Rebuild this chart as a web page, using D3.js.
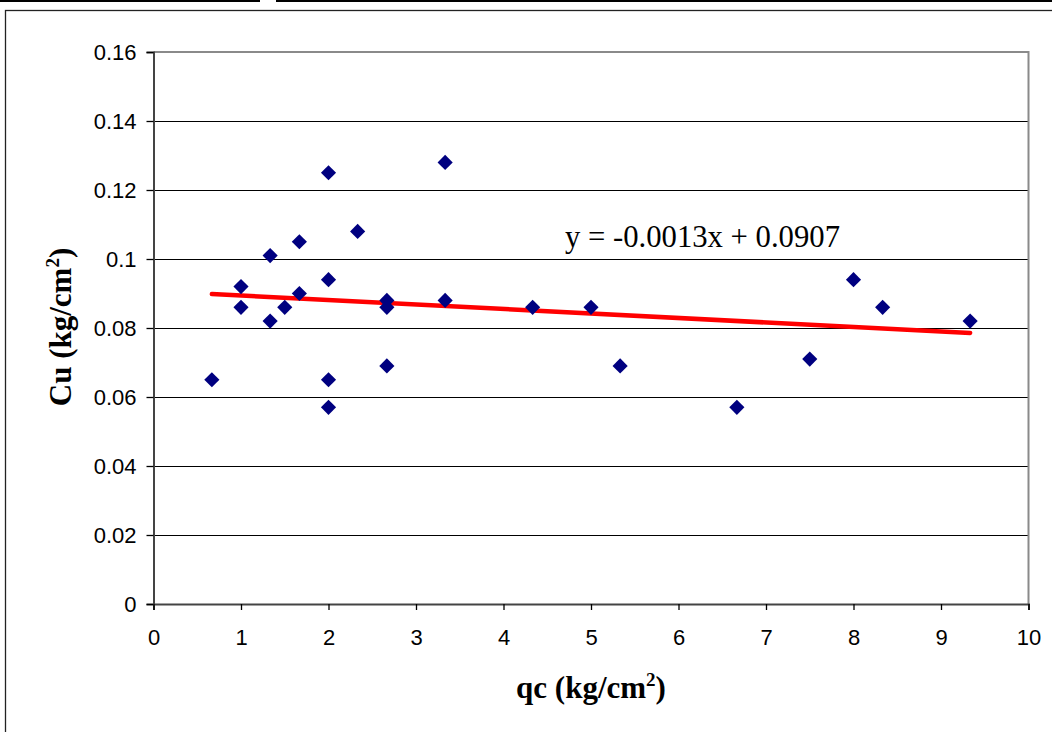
<!DOCTYPE html>
<html>
<head>
<meta charset="utf-8">
<script src="https://cdn.jsdelivr.net/npm/d3@7"></script>
<style>
  body { margin: 0; background: #fff; }
  svg { display: block; }
</style>
</head>
<body>
<script>
// Chart data
var qc = [0.667, 1, 1, 1.333, 1.333, 1.5, 1.667, 1.667, 2, 2, 2, 2, 2.333,
          2.667, 2.667, 2.667, 3.333, 3.333, 4.333, 5, 5.333, 6.667, 7.5, 8, 8.333, 9.333];
var cu = [0.065, 0.092, 0.086, 0.101, 0.082, 0.086, 0.105, 0.090, 0.125, 0.094, 0.065, 0.057, 0.108,
          0.088, 0.086, 0.069, 0.128, 0.088, 0.086, 0.086, 0.069, 0.057, 0.071, 0.094, 0.086, 0.082];
var xTicks = [0, 1, 2, 3, 4, 5, 6, 7, 8, 9, 10];
var yTicks = [0, 0.02, 0.04, 0.06, 0.08, 0.1, 0.12, 0.14, 0.16];
var slope = -0.0013, intercept = 0.0907;

//Width and height
var w = 1052;
var h = 732;

var svg = d3.select("body")
    .append("svg")
    .attr("width", w)
    .attr("height", h);

//Scales
var x = d3.scaleLinear().domain([0, 10]).range([153.5, 1028.5]);
var y = d3.scaleLinear().domain([0, 0.16]).range([604, 52]);

//Top strip and outer frame
svg.append("line").attr("x1", 0).attr("x2", 260).attr("y1", 1).attr("y2", 1)
    .style("stroke", "#000").style("stroke-width", 2);
svg.append("line").attr("x1", 276).attr("x2", w).attr("y1", 1).attr("y2", 1)
    .style("stroke", "#000").style("stroke-width", 2);
svg.append("rect").attr("x", 5.5).attr("y", 10.5).attr("width", w + 10).attr("height", h + 10)
    .style("fill", "none").style("stroke", "#222").style("stroke-width", 1.3);

//Gridlines
svg.append("g")
    .selectAll("line")
    .data(yTicks.filter(function (d) { return d > 0 && d < 0.16; }))
    .enter()
    .append("line")
    .attr("x1", x(0)).attr("x2", x(10))
    .attr("y1", function (d) { return Math.round(y(d)) + 0.5; })
    .attr("y2", function (d) { return Math.round(y(d)) + 0.5; })
    .style("stroke", "#000")
    .style("stroke-width", 1);

//Plot border (top and right)
svg.append("path")
    .attr("d", "M" + x(0) + "," + y(0.16) + "H" + x(10) + "V" + y(0))
    .style("fill", "none").style("stroke", "#8a8a8a").style("stroke-width", 2);

//Axes
var yAxis = svg.append("g")
    .attr("transform", "translate(" + x(0) + ",0)")
    .call(d3.axisLeft(y).tickValues(yTicks).tickSize(7).tickPadding(10)
        .tickFormat(function (d) { return d3.format("~g")(d); }));
var xAxis = svg.append("g")
    .attr("transform", "translate(0," + y(0) + ")")
    .call(d3.axisBottom(x).tickValues(xTicks).tickSize(6).tickPadding(19).tickFormat(d3.format("d")));

[yAxis, xAxis].forEach(function (a) {
    a.select(".domain").style("stroke", "#444").style("stroke-width", 2);
    a.selectAll(".tick line").style("stroke", "#000").style("stroke-width", 1.3);
    a.selectAll("text")
        .style("font-family", "'Liberation Sans', Arial, sans-serif")
        .style("font-size", "22px")
        .style("fill", "#000");
});
yAxis.selectAll("text").attr("dy", "0.36em");
xAxis.selectAll("text").attr("dy", "0.71em");

//Trendline over the data range
var xr = d3.extent(qc);
svg.append("line")
    .attr("x1", x(xr[0])).attr("y1", y(slope * xr[0] + intercept))
    .attr("x2", x(xr[1])).attr("y2", y(slope * xr[1] + intercept))
    .style("stroke", "#ff0000")
    .style("stroke-width", 4.5)
    .style("stroke-linecap", "round");

//Points
var diamond = d3.symbol().type(d3.symbolSquare).size(115);
svg.append("g")
    .selectAll("path")
    .data(qc)
    .enter()
    .append("path")
    .attr("d", diamond)
    .attr("transform", function (d, i) {
        return "translate(" + x(d) + "," + y(cu[i]) + ") rotate(45)";
    })
    .style("fill", "#000080");

//Equation
svg.append("text")
    .attr("x", 565).attr("y", 247)
    .style("font-family", "'Liberation Serif', 'Times New Roman', serif")
    .style("font-size", "30.7px")
    .text("y = -0.0013x + 0.0907");

//Axis titles
var xt = svg.append("text")
    .attr("x", 591).attr("y", 698)
    .attr("text-anchor", "middle")
    .style("font-family", "'Liberation Serif', 'Times New Roman', serif")
    .style("font-size", "31px")
    .style("font-weight", "bold");
xt.append("tspan").text("qc (kg/cm");
xt.append("tspan").attr("dy", -12).style("font-size", "19px").text("2");
xt.append("tspan").attr("dy", 12).text(")");

var yt = svg.append("text")
    .attr("transform", "translate(71,327) rotate(-90)")
    .attr("text-anchor", "middle")
    .style("font-family", "'Liberation Serif', 'Times New Roman', serif")
    .style("font-size", "31px")
    .style("font-weight", "bold");
yt.append("tspan").text("Cu (kg/cm");
yt.append("tspan").attr("dy", -12).style("font-size", "19px").text("2");
yt.append("tspan").attr("dy", 12).text(")");
</script>
</body>
</html>
